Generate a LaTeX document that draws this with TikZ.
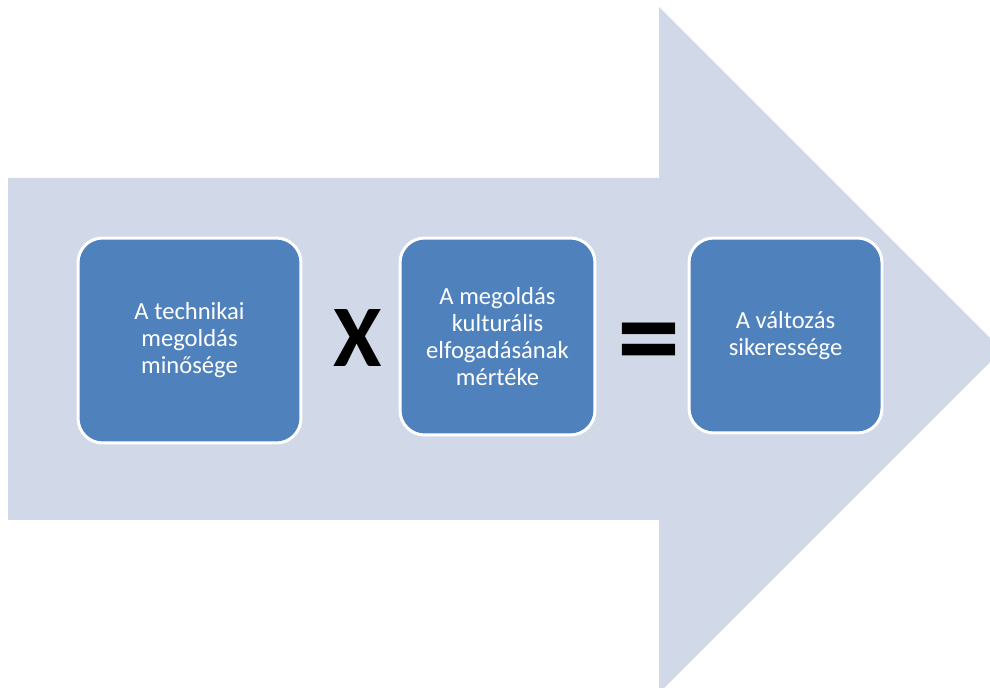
\documentclass[tikz,border=0pt]{standalone}
\usepackage{fontspec}
\setmainfont{Carlito}
\usepackage{tikz}
\definecolor{arrowfill}{HTML}{D1D8E8}
\definecolor{boxfill}{HTML}{4F81BD}
\pgfmathsetmacro{\tipx}{1002}
\pgfmathsetmacro{\neck}{659}
\tikzset{
	tile/.style = {draw=white, line width=1.7pt, fill=boxfill, rounded corners=14pt, text=white, align=center, font=\fontsize{14}{15.4}\selectfont},
	sign/.style = {font=\fontsize{50}{50}\bfseries\selectfont, text=black}
}

\begin{document}
\begin{tikzpicture}[x=0.02cm, y=-0.02cm]
		\useasboundingbox (0, 0) rectangle (990, 688);
		\clip (0, 0) rectangle (990, 688);
		\fill[arrowfill] (8, 178) -- (\neck, 178) -- (\neck, 7) -- (\tipx, 350) -- (\neck, 693) -- (\neck, 520) -- (8, 520) -- cycle;
		\node[tile, minimum width=4.46cm, minimum height=4.1cm] (quality) at (189.5, 340.5) {A technikai\\megoldás\\minősége};
		\node[tile, minimum width=3.9cm, minimum height=3.94cm] (acceptance) at (497.5, 336.5) {A megoldás\\kulturális\\elfogadásának\\mértéke};
		\node[tile, minimum width=3.86cm, minimum height=3.9cm] (success) at (785.5, 335.5) {A változás\\sikeressége};
		\node[sign] (times) at (358, 338) {X};
		\node[sign, font=\fontsize{72}{72}\bfseries\selectfont] (equals) at (649, 351) {=};
	\end{tikzpicture}
\end{document}
